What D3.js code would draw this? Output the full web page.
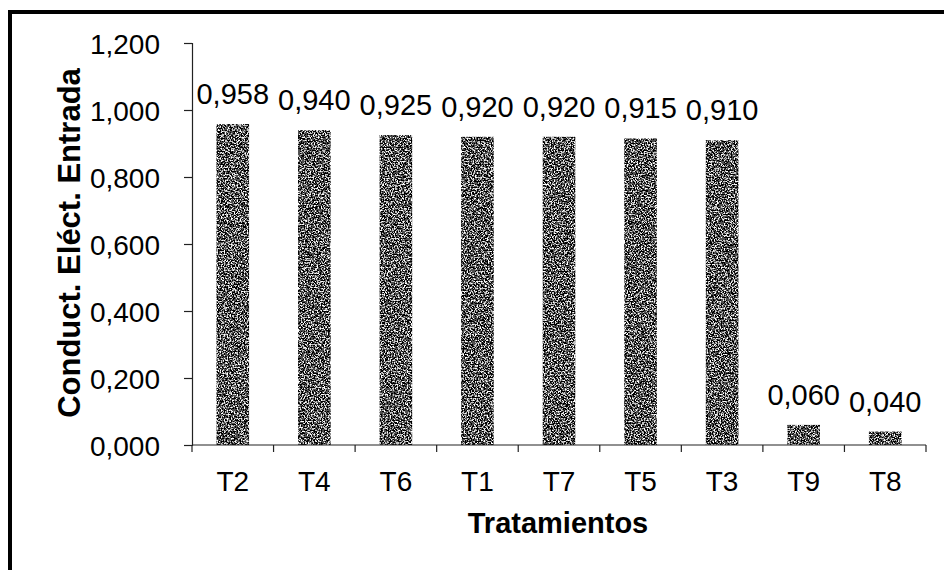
<!DOCTYPE html>
<html>
<head>
<meta charset="utf-8">
<script src="https://cdn.jsdelivr.net/npm/d3@7"></script>
<style>
  html, body { margin: 0; padding: 0; background: #fff; }
  svg { display: block; }
  text { font-family: Arial, "Liberation Sans", sans-serif; fill: #000; }
</style>
</head>
<body>
<script>
const categories = ["T2", "T4", "T6", "T1", "T7", "T5", "T3", "T9", "T8"];
const values = [0.958, 0.940, 0.925, 0.920, 0.920, 0.915, 0.910, 0.060, 0.040];
const yTicks = [0, 0.2, 0.4, 0.6, 0.8, 1.0, 1.2];
const xTitle = "Tratamientos";
const yTitle = "Conduct. Eléct. Entrada";

const W = 944, H = 570;
const fmt = v => d3.format(".3f")(v).replace(".", ",");

const svg = d3.select("body").append("svg").attr("width", W).attr("height", H);

const defs = svg.append("defs");
const f = defs.append("filter").attr("id", "speck")
  .attr("x", 0).attr("y", 0).attr("width", 1).attr("height", 1)
  .attr("filterUnits", "objectBoundingBox");
f.append("feTurbulence").attr("type", "fractalNoise").attr("baseFrequency", 0.7)
  .attr("numOctaves", 2).attr("seed", 7).attr("result", "t");
f.append("feColorMatrix").attr("in", "t").attr("type", "matrix")
  .attr("values", "1 0 0 0 0  1 0 0 0 0  1 0 0 0 0  0 0 0 0 1").attr("result", "g");
const ct = f.append("feComponentTransfer").attr("in", "g").attr("result", "c");
["R", "G", "B"].forEach(ch => ct.append("feFunc" + ch).attr("type", "discrete")
  .attr("tableValues", "0 0 0 0 0.08 0.55 1 1 1"));
f.append("feComposite").attr("in", "c").attr("in2", "SourceGraphic").attr("operator", "in");

// frame (top and left edges visible)
svg.append("line").attr("x1", 8).attr("x2", W).attr("y1", 12).attr("y2", 12)
  .attr("stroke", "#000").attr("stroke-width", 4);
svg.append("line").attr("x1", 10).attr("x2", 10).attr("y1", 10).attr("y2", H)
  .attr("stroke", "#000").attr("stroke-width", 4);

const x0 = 192, x1 = 926, yTop = 43, yBot = 445;
const x = d3.scaleBand().domain(categories).range([x0, x1]).paddingInner(0.6).paddingOuter(0.3);
const y = d3.scaleLinear().domain([0, 1.2]).range([yBot, yTop]);

// bars
svg.append("g").selectAll("rect").data(categories).join("rect")
  .attr("x", d => x(d))
  .attr("width", x.bandwidth())
  .attr("y", (d, i) => y(values[i]))
  .attr("height", (d, i) => yBot - y(values[i]))
  .attr("fill", "#444")
  .attr("filter", "url(#speck)");

// y axis
const yAxis = svg.append("g").attr("transform", `translate(${x0},0)`)
  .call(d3.axisLeft(y).tickValues(yTicks).tickFormat(fmt).tickSize(8).tickPadding(24));
yAxis.selectAll("text").attr("font-size", 28).attr("font-family", "Arial, 'Liberation Sans', sans-serif").attr("dy", "0.36em");
yAxis.selectAll("line, path").attr("stroke", "#222").attr("stroke-width", 1.2);

// x axis with ticks at band boundaries
const xAxisG = svg.append("g").attr("transform", `translate(0,${yBot})`);
xAxisG.append("line").attr("x1", x0).attr("x2", x1).attr("y1", 0).attr("y2", 0)
  .attr("stroke", "#222").attr("stroke-width", 1.2);
const bounds = d3.range(categories.length + 1).map(i => x0 + i * (x1 - x0) / categories.length);
xAxisG.selectAll("line.tk").data(bounds).join("line").attr("class", "tk")
  .attr("x1", d => d).attr("x2", d => d).attr("y1", 0).attr("y2", 7)
  .attr("stroke", "#222").attr("stroke-width", 1.2);
xAxisG.selectAll("text").data(categories).join("text")
  .attr("x", d => x(d) + x.bandwidth() / 2)
  .attr("y", 46)
  .attr("text-anchor", "middle")
  .attr("font-size", 28)
  .text(d => d);

// value labels
svg.append("g").selectAll("text").data(categories).join("text")
  .attr("x", d => x(d) + x.bandwidth() / 2)
  .attr("y", (d, i) => y(values[i]) - 20)
  .attr("text-anchor", "middle")
  .attr("font-size", 29)
  .text((d, i) => fmt(values[i]));

// titles
svg.append("text").attr("x", 558).attr("y", 533).attr("text-anchor", "middle")
  .attr("font-size", 29).attr("font-weight", "bold").text(xTitle);
svg.append("text").attr("transform", "translate(80,243) rotate(-90)")
  .attr("text-anchor", "middle").attr("font-size", 31).attr("font-weight", "bold").text(yTitle);
</script>
</body>
</html>
